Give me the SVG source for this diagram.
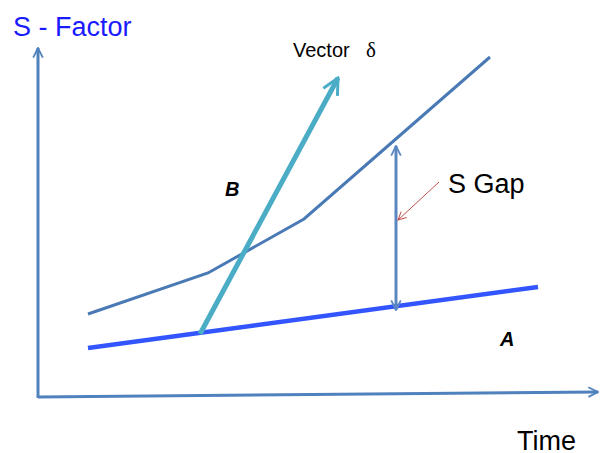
<svg xmlns="http://www.w3.org/2000/svg" width="600" height="453" viewBox="0 0 600 453">
<style>
.axis{stroke:#4f81bd;stroke-width:3;fill:none}
.lbl{font-family:"Liberation Sans",Arial,sans-serif}
</style>
<defs>
<marker id="openAx" viewBox="0 0 10 10" refX="9" refY="5" markerWidth="4" markerHeight="4" orient="auto" markerUnits="strokeWidth"><path d="M1,1 L9,5 L1,9" fill="none" stroke="#4f81bd" stroke-width="1.5"/></marker>
<marker id="openVec" viewBox="0 0 10 10" refX="9" refY="5" markerWidth="4" markerHeight="4" orient="auto" markerUnits="strokeWidth"><path d="M1,1 L9,5 L1,9" fill="none" stroke="#4bacc6" stroke-width="1.5"/></marker>
<marker id="openGap" viewBox="0 0 10 10" refX="9" refY="5" markerWidth="4" markerHeight="4" orient="auto-start-reverse" markerUnits="strokeWidth"><path d="M1,1 L9,5 L1,9" fill="none" stroke="#5b87c0" stroke-width="1.5"/></marker>
<marker id="openRed" viewBox="0 0 10 10" refX="9" refY="5" markerWidth="10" markerHeight="10" orient="auto" markerUnits="strokeWidth"><path d="M1,1 L9,5 L1,9" fill="none" stroke="#c0504d" stroke-width="1"/></marker>
</defs>
<g id="axes">
<line class="axis" x1="38" y1="398" x2="38" y2="48" marker-end="url(#openAx)"/>
<line class="axis" x1="38" y1="397" x2="598" y2="392" marker-end="url(#openAx)"/>
</g>
<g id="connectors">
<polyline points="88,314 208,273 304,219 490,57" fill="none" stroke="#4a7ab5" stroke-width="3"/>
<line x1="88" y1="348" x2="538" y2="287" stroke="#3355ff" stroke-width="4.5"/>
<line x1="200" y1="334" x2="338" y2="78" stroke="#4bacc6" stroke-width="5" marker-end="url(#openVec)"/>
<line x1="396" y1="146" x2="396" y2="310" stroke="#5b87c0" stroke-width="3" marker-start="url(#openGap)" marker-end="url(#openGap)"/>
<line x1="439" y1="182" x2="398" y2="220" stroke="#c0504d" stroke-width="1" marker-end="url(#openRed)"/>
</g>
<g id="labels">
<text class="lbl" x="13" y="36" font-size="27" fill="#1a1aff">S - Factor</text>
<text class="lbl" x="517" y="450" font-size="27" fill="#000">Time</text>
<text class="lbl" x="448" y="193" font-size="27" fill="#000">S Gap</text>
<text class="lbl" x="293" y="57" font-size="20" fill="#000">Vector</text>
<text x="366" y="57" font-family="'Liberation Serif',serif" font-size="21" fill="#000">δ</text>
<text class="lbl" x="225" y="196" font-size="20" font-weight="bold" font-style="italic" fill="#000">B</text>
<text class="lbl" x="500" y="346" font-size="20" font-weight="bold" font-style="italic" fill="#000">A</text>
</g>
</svg>
